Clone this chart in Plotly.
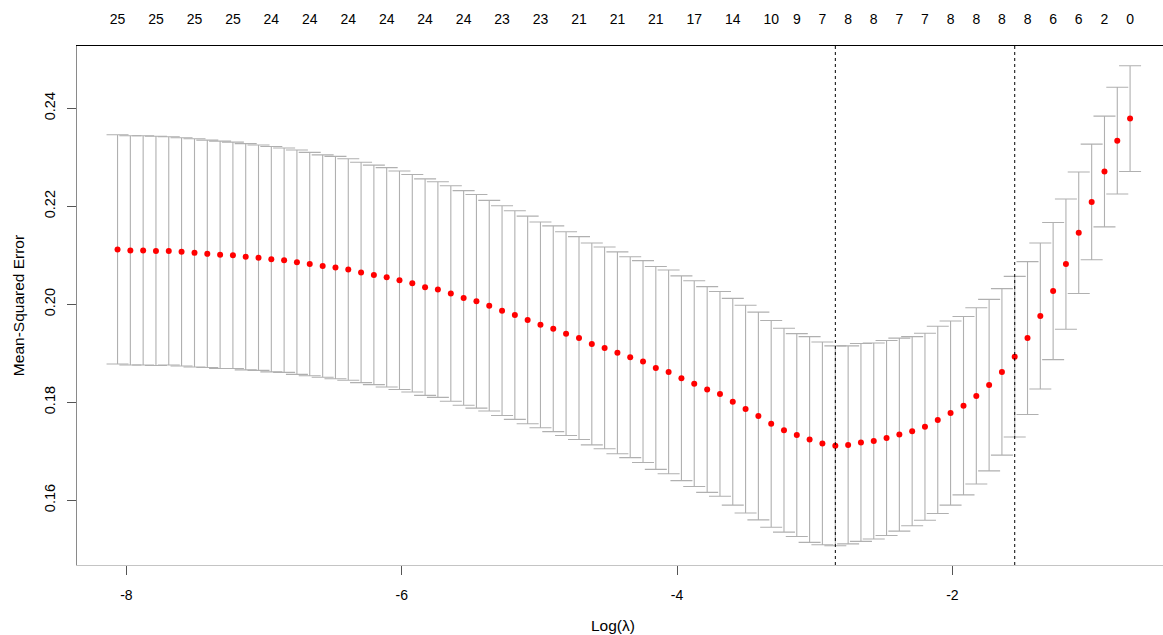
import plotly.graph_objects as go

# ---- data (cv.glmnet style plot) ----
log_lambda = [
    -8.064, -7.971, -7.878, -7.785, -7.692, -7.599, -7.505, -7.412, -7.319, -7.226,
    -7.133, -7.040, -6.947, -6.854, -6.761, -6.668, -6.574, -6.481, -6.388, -6.295,
    -6.202, -6.109, -6.016, -5.923, -5.830, -5.737, -5.643, -5.550, -5.457, -5.364,
    -5.271, -5.178, -5.085, -4.992, -4.899, -4.806, -4.712, -4.619, -4.526, -4.433,
    -4.340, -4.247, -4.154, -4.061, -3.968, -3.875, -3.781, -3.688, -3.595, -3.502,
    -3.409, -3.316, -3.223, -3.130, -3.037, -2.944, -2.850, -2.757, -2.664, -2.571,
    -2.478, -2.385, -2.292, -2.199, -2.106, -2.013, -1.919, -1.826, -1.733, -1.640,
    -1.547, -1.454, -1.361, -1.268, -1.175, -1.082, -0.988, -0.895, -0.802, -0.709,
]

cvm = [
    0.2112, 0.2110, 0.2110, 0.2109, 0.2109, 0.2107, 0.2105, 0.2103, 0.2101, 0.2100,
    0.2097, 0.2095, 0.2092, 0.2090, 0.2086, 0.2082, 0.2078, 0.2075, 0.2071, 0.2065,
    0.2060, 0.2055, 0.2049, 0.2043, 0.2035, 0.2030, 0.2022, 0.2013, 0.2006, 0.1997,
    0.1987, 0.1978, 0.1968, 0.1958, 0.1950, 0.1940, 0.1931, 0.1919, 0.1911, 0.1901,
    0.1892, 0.1883, 0.1870, 0.1862, 0.1849, 0.1838, 0.1826, 0.1817, 0.1801, 0.1786,
    0.1772, 0.1756, 0.1743, 0.1733, 0.1724, 0.1716, 0.1711, 0.1713, 0.1718, 0.1721,
    0.1727, 0.1734, 0.1741, 0.1750, 0.1764, 0.1778, 0.1793, 0.1813, 0.1835, 0.1862,
    0.1893, 0.1931, 0.1976, 0.2027, 0.2082, 0.2146, 0.2209, 0.2271, 0.2334, 0.2379,
]

cvsd = [
    0.0234, 0.0234, 0.0234, 0.0234, 0.0233, 0.0233, 0.0233, 0.0232, 0.0232, 0.0231,
    0.0231, 0.0230, 0.0230, 0.0229, 0.0229, 0.0228, 0.0227, 0.0227, 0.0226, 0.0225,
    0.0224, 0.0224, 0.0223, 0.0222, 0.0221, 0.0220, 0.0220, 0.0219, 0.0218, 0.0215,
    0.0214, 0.0213, 0.0212, 0.0210, 0.0210, 0.0208, 0.0207, 0.0206, 0.0206, 0.0206,
    0.0205, 0.0206, 0.0207, 0.0208, 0.0209, 0.0210, 0.0210, 0.0209, 0.0211, 0.0212,
    0.0212, 0.0211, 0.0208, 0.0207, 0.0210, 0.0207, 0.0204, 0.0202, 0.0202, 0.0200,
    0.0199, 0.0197, 0.0193, 0.0191, 0.0191, 0.0188, 0.0182, 0.0180, 0.0175, 0.0170,
    0.0164, 0.0156, 0.0149, 0.0140, 0.0133, 0.0124, 0.0118, 0.0113, 0.0109, 0.0108,
]

# number of non-zero coefficients shown on the top axis (at the labelled lambdas)
top_label_index = [0, 3, 6, 9, 12, 15, 18, 21, 24, 27, 30, 33, 36, 39, 42, 45, 48, 51,
                   53, 55, 57, 59, 61, 63, 65, 67, 69, 71, 73, 75, 77, 79]
top_labels = ["25", "25", "25", "25", "24", "24", "24", "24", "24", "24", "23", "23",
              "21", "21", "21", "17", "14", "10", "9", "7", "8", "8", "7", "7",
              "8", "8", "8", "8", "6", "6", "2", "0"]

lambda_min_index = 56
lambda_1se_index = 70

x_ticks = [-8, -6, -4, -2]
y_ticks = [0.16, 0.18, 0.20, 0.22, 0.24]
y_ticktext = ["0.16", "0.18", "0.20", "0.22", "0.24"]

x_range = [-8.3585, -0.4699]
y_range = [0.14678, 0.25272]

FONT = "Liberation Sans, Arial, Helvetica, sans-serif"

fig = go.Figure()

fig.add_trace(go.Scatter(
    x=log_lambda, y=cvm, mode="markers",
    marker=dict(color="red", size=6, line=dict(width=0)),
    error_y=dict(type="data", array=cvsd, visible=True,
                 color="#b0b0b0", thickness=1.1, width=11),
    showlegend=False, hoverinfo="x+y",
))

# invisible trace carrying the top axis
fig.add_trace(go.Scatter(
    x=[log_lambda[i] for i in top_label_index],
    y=[cvm[i] for i in top_label_index],
    xaxis="x2", mode="markers", marker=dict(opacity=0),
    showlegend=False, hoverinfo="skip",
))

for idx in (lambda_min_index, lambda_1se_index):
    fig.add_shape(type="line", xref="x", yref="paper",
                  x0=log_lambda[idx], x1=log_lambda[idx], y0=0, y1=1,
                  line=dict(color="black", width=1, dash="dot"))

# x-axis title, placed like R's xlab
fig.add_annotation(text="Log(λ)", xref="paper", yref="paper",
                   x=0.4936, y=0, yshift=-60, xanchor="center", yanchor="middle",
                   showarrow=False, font=dict(size=15.5, color="black"))

fig.update_layout(
    width=1163, height=635,
    margin=dict(l=77, r=0, t=46, b=70),
    paper_bgcolor="white", plot_bgcolor="white",
    font=dict(family=FONT, size=14, color="black"),
    xaxis=dict(
        range=x_range, tickmode="array", tickvals=x_ticks,
        ticktext=[str(v) for v in x_ticks],
        ticks="outside", ticklen=9, tickwidth=1, tickcolor="#555555",
        showline=True, linecolor="#c4c4c4", linewidth=1,
        showgrid=False, zeroline=False,
        ticklabelstandoff=8,
        tickfont=dict(size=14, color="black"),
    ),
    xaxis2=dict(
        range=x_range, overlaying="x", side="top", anchor="y",
        tickmode="array",
        tickvals=[log_lambda[i] for i in top_label_index],
        ticktext=top_labels,
        ticks="", showline=True, linecolor="black", linewidth=1,
        showgrid=False, zeroline=False,
        ticklabelstandoff=15,
        tickfont=dict(size=14, color="black"),
    ),
    yaxis=dict(
        range=y_range, tickmode="array", tickvals=y_ticks, ticktext=y_ticktext,
        tickangle=-90,
        ticks="outside", ticklen=9, tickwidth=1, tickcolor="#555555",
        showline=True, linecolor="#8a8a8a", linewidth=1,
        showgrid=False, zeroline=False,
        ticklabelstandoff=6,
        tickfont=dict(size=14.5, color="black"),
        title=dict(text="Mean-Squared Error", font=dict(size=15.5, color="black"), standoff=13),
    ),
)

fig.write_html("out.html")
